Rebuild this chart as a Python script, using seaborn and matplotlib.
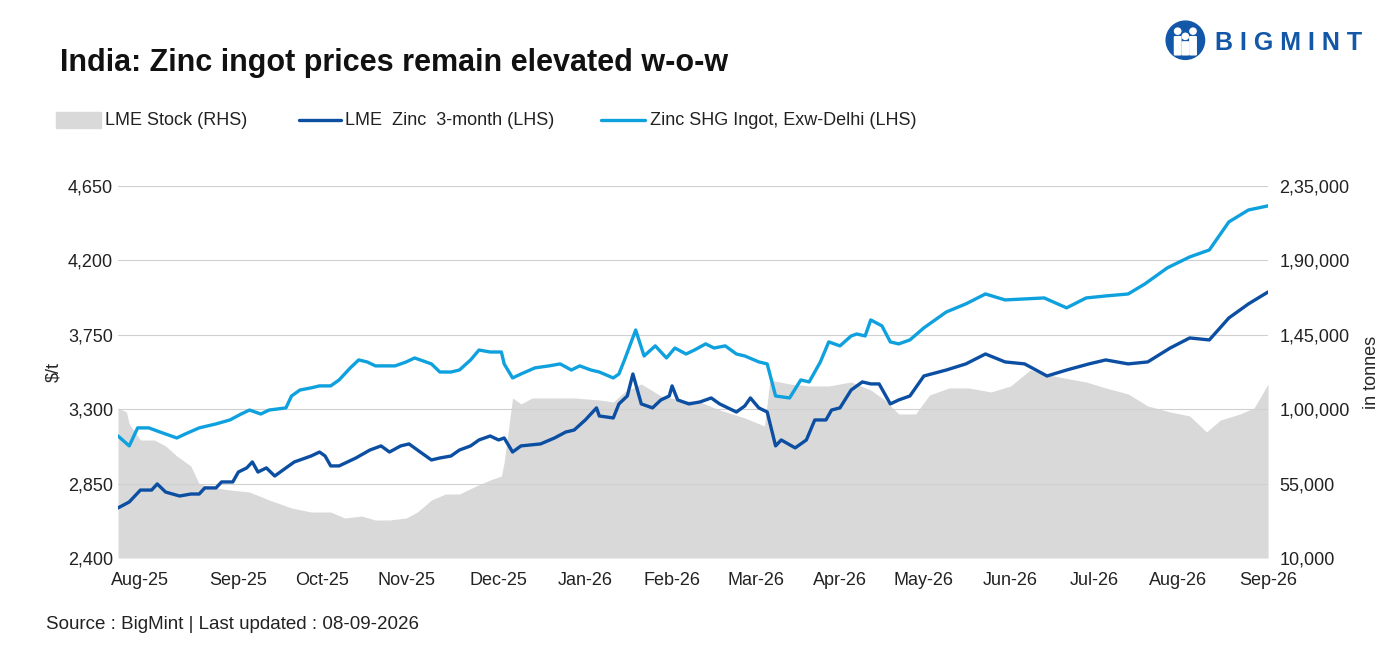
import matplotlib
matplotlib.use("Agg")
import matplotlib.pyplot as plt
import matplotlib.patches as mpatches
import seaborn as sns

# days since 2025-08-01
shg_days = [-8,-4,-1,3,7,13,16,21,27,32,36,39,43,46,52,54,57,61,64,68,71,75,78,81,84,88,91,95,98,102,104,107,111,114,118,121,125,129,130,133,136,141,146,150,154,157,161,164,169,171,173,177,180,184,188,191,195,198,202,205,209,213,216,221,224,227,232,236,239,243,246,250,254,256,259,261,265,268,271,275,280,288,295,302,309,316,323,331,338,345,353,359,367,375,382,389,396,403]
shg_vals = [3138,3078,3187,3187,3162,3126,3150,3187,3211,3235,3271,3295,3271,3295,3308,3380,3416,3429,3441,3441,3477,3550,3598,3586,3562,3562,3562,3586,3610,3586,3574,3525,3525,3537,3598,3658,3646,3646,3574,3489,3513,3550,3562,3574,3537,3562,3537,3525,3489,3513,3598,3779,3622,3683,3610,3670,3634,3658,3695,3670,3683,3634,3622,3586,3574,3380,3368,3477,3465,3586,3707,3683,3743,3755,3743,3840,3804,3707,3695,3719,3792,3888,3937,3997,3961,3967,3973,3913,3973,3985,3997,4058,4155,4221,4263,4433,4505,4530]

lme_days = [-8,-4,0,4,6,9,14,18,21,23,27,29,33,35,38,40,42,45,48,52,55,61,64,66,68,71,77,82,86,89,93,96,100,104,107,111,114,118,121,125,128,130,133,136,143,148,152,155,159,163,164,169,171,174,176,179,183,186,189,190,192,196,200,204,207,213,216,218,221,224,227,229,234,238,241,245,247,250,254,258,261,264,268,271,275,280,288,295,302,309,316,324,331,339,345,353,360,368,375,382,389,396,403]
lme_vals = [2703,2739,2811,2811,2848,2799,2775,2787,2787,2824,2824,2860,2860,2920,2945,2981,2920,2945,2896,2945,2981,3017,3041,3017,2957,2957,3005,3053,3078,3041,3078,3090,3041,2993,3005,3017,3053,3078,3114,3138,3114,3126,3041,3078,3090,3126,3162,3174,3235,3308,3259,3247,3332,3380,3513,3332,3308,3356,3380,3441,3356,3332,3344,3368,3332,3283,3320,3368,3308,3283,3078,3114,3066,3114,3235,3235,3295,3308,3416,3465,3453,3453,3332,3356,3380,3501,3537,3574,3634,3586,3574,3501,3537,3574,3598,3574,3586,3670,3731,3719,3852,3937,4009]

stock_days = [-8,-5,-4,0,5,9,13,18,21,27,32,39,46,54,61,68,73,79,84,89,95,99,104,109,114,120,125,129,130,133,136,140,146,155,164,169,173,179,186,193,200,207,216,223,225,232,239,246,254,261,266,271,277,282,289,296,304,311,318,323,330,338,345,353,360,368,375,381,386,393,398,403]
stock_vals = [100750,98330,91070,81390,81390,77760,71710,65660,54770,52350,51140,49930,45090,40250,37830,37830,34200,35410,32990,32990,34200,37830,45090,48720,48720,53560,57190,59610,68080,106800,103170,106800,106800,106800,105590,104380,110430,115270,108010,105590,104380,99540,94700,89860,117690,115270,114060,114060,116480,111640,105590,97120,97120,108615,112850,112850,110430,114060,123740,121320,118900,116480,112850,109220,101960,98330,95910,86230,93490,97120,100750,115270]

tick_days = [0,35,65,95,128,159,190,220,250,280,311,341,371,403]
tick_labels = ["Aug-25","Sep-25","Oct-25","Nov-25","Dec-25","Jan-26","Feb-26","Mar-26","Apr-26","May-26","Jun-26","Jul-26","Aug-26","Sep-26"]
left_ticks = [2400,2850,3300,3750,4200,4650]
right_ticks = [10000,55000,100000,145000,190000,235000]
right_labels = ["10,000","55,000","1,00,000","1,45,000","1,90,000","2,35,000"]

sns.set_style("white")
plt.rcParams['font.family'] = ['Liberation Sans', 'DejaVu Sans']

DARK = "#0b4ea2"
LIGHT = "#0ea1de"
GREY = "#d9d9d9"
FS = 13

fig = plt.figure(figsize=(13.97, 6.49), dpi=100)
ax = fig.add_axes([0.0845, 0.1402, 0.8232, 0.5732])
ax2 = ax.twinx()

ax2.fill_between(stock_days, 10000, stock_vals, color=GREY, lw=0)
ax2.set_ylim(10000, 235000)
ax2.set_yticks(right_ticks)
ax2.set_yticklabels(right_labels)
ax2.set_ylabel("in tonnes", fontsize=FS, labelpad=10)

ax.set_zorder(ax2.get_zorder() + 1)
ax.patch.set_visible(False)
sns.lineplot(x=lme_days, y=lme_vals, ax=ax, color=DARK, lw=2.4)
sns.lineplot(x=shg_days, y=shg_vals, ax=ax, color=LIGHT, lw=2.4)
ax.set_ylim(2400, 4650)
ax.set_xlim(-8, 403)
ax.set_yticks(left_ticks)
ax.set_yticklabels([f"{v:,}" for v in left_ticks])
ax.set_xticks(tick_days)
ax.set_xticklabels(tick_labels)
ax.set_ylabel("$/t", fontsize=FS)
ax.yaxis.grid(True, color="#d0d0d0", lw=0.8)
for a in (ax, ax2):
    for s in a.spines.values():
        s.set_visible(False)
    a.tick_params(labelsize=FS, length=0, colors="#222222")
ax.tick_params(axis='x', pad=10)
ax2.tick_params(axis='y', pad=8)

fig.text(0.043, 0.903, "India: Zinc ingot prices remain elevated w-o-w", fontsize=22,
         fontweight="bold", color="#111111", va="center")
# legend
ly = 0.815
fig.patches.append(mpatches.Rectangle((0.040, ly - 0.012), 0.032, 0.024, transform=fig.transFigure, color=GREY))
fig.text(0.075, ly, "LME Stock (RHS)", fontsize=FS, va="center", color="#222222")
fig.lines.append(plt.Line2D([0.214, 0.244], [ly, ly], transform=fig.transFigure, color=DARK, lw=2.4))
fig.text(0.247, ly, "LME  Zinc  3-month (LHS)", fontsize=FS, va="center", color="#222222")
fig.lines.append(plt.Line2D([0.430, 0.462], [ly, ly], transform=fig.transFigure, color=LIGHT, lw=2.4))
fig.text(0.465, ly, "Zinc SHG Ingot, Exw-Delhi (LHS)", fontsize=FS, va="center", color="#222222")

fig.text(0.033, 0.037, "Source : BigMint | Last updated : 08-09-2026", fontsize=13.5, color="#222222", va="center")

# logo (icon drawn as shapes)
cx, cy = 0.8485, 0.938
fig.patches.append(mpatches.Ellipse((cx, cy), 0.0275, 0.059, transform=fig.transFigure, color="#1257a8"))
for dx, h in ((-0.0055, 0.030), (0.0055, 0.030), (0.0, 0.022)):
    fig.patches.append(mpatches.Ellipse((cx + dx, cy + 0.014 if dx else cy + 0.006), 0.0045, 0.0095,
                                        transform=fig.transFigure, color="white"))
    fig.patches.append(mpatches.FancyBboxPatch((cx + dx - 0.0018, cy - 0.022), 0.0036, h - 0.003,
                                               boxstyle="round,pad=0.0005", transform=fig.transFigure, color="white"))
fig.text(0.870, 0.933, "B I G M I N T", fontsize=18, fontweight="bold", color="#1257a8", va="center")

fig.savefig("out.png", dpi=100)
